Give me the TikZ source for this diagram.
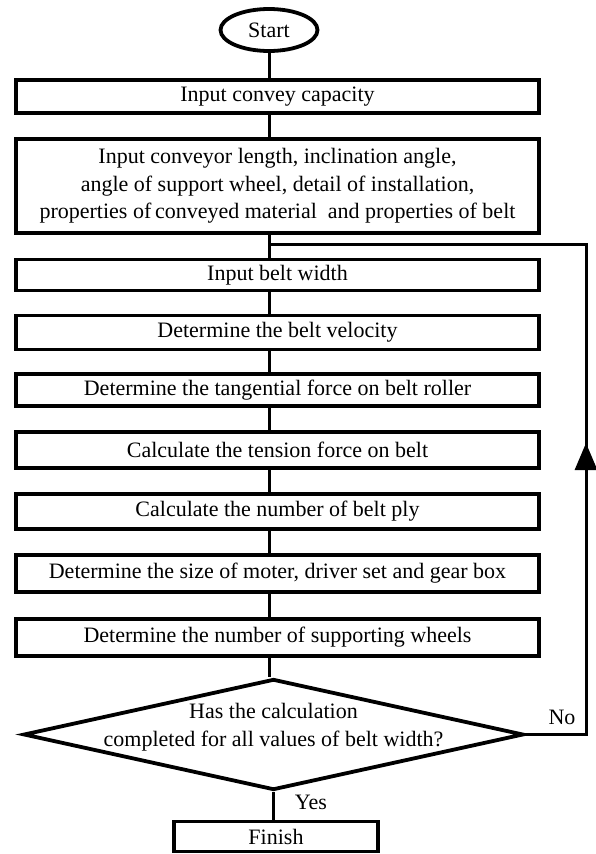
\documentclass[tikz,border=0pt]{standalone}
\usepackage{fontspec}
\setmainfont{Liberation Serif}
\usetikzlibrary{shapes.geometric,arrows.meta}
\begin{document}
\begin{tikzpicture}[x=1pt,y=-1pt,
  txt/.style={font=\fontsize{22}{27.5}\selectfont},
  box/.style={draw, line width=3.8pt, minimum width=523pt, minimum height=34pt,
              inner sep=0pt, align=center, txt},
  conn/.style={line width=3pt},
  lbl/.style={inner sep=0pt, txt}]
\useasboundingbox (0,0) rectangle (596,854);
\fill[white] (0,0) rectangle (596,854);

\node[draw, ellipse, line width=3.8pt, minimum width=97pt, minimum height=42pt,
      inner sep=0pt, txt] (start) at (269,30) {Start};

\node[box, minimum height=33pt] (b1) at (277.5,96.5) {Input convey capacity};
\node[box, minimum height=94pt] (b2) at (277.5,186) {Input conveyor length, inclination angle,\\
angle of support wheel, detail of installation,\\
properties of\,conveyed material\ \ and properties of belt};
\node[box, minimum height=31pt] (b3) at (277.5,275) {Input belt width};
\node[box] (b4) at (277.5,332.5) {Determine the belt velocity};
\node[box, minimum height=32pt] (b5) at (277.5,390) {Determine the tangential force on belt roller};
\node[box, minimum height=36pt] (b6) at (277.5,450) {Calculate the tension force on belt};
\node[box, minimum height=35pt] (b7) at (277.5,511.5) {Calculate the number of belt ply};
\node[box, minimum height=37pt] (b8) at (277.5,573.5) {Determine the size of moter, driver set and gear box};
\node[box, minimum height=37pt] (b9) at (277.5,637.5) {Determine the number of supporting wheels};

\node[draw, diamond, line width=3.8pt, minimum width=500pt, minimum height=111pt,
      inner sep=0pt] (dec) at (273.5,734.5) {};
\node[lbl, align=center] (dectext) at (273.5,727) {Has the calculation\\completed for all values of belt width?};

\node[box, minimum width=204pt, minimum height=30pt] (fin) at (276,836.5) {Finish};

\node[lbl] (no) at (562,717) {No};
\node[lbl] (yes) at (311,802) {Yes};

\coordinate (jn) at (269,244);
\coordinate (rt) at (586,244);
\coordinate (tip) at (586,443);

\draw[conn] (start) -- (start |- b1.north);
\draw[conn] (start |- b1.south) -- (start |- b2.north);
\draw[conn] (start |- b2.south) -- (start |- b3.north);
\draw[conn] (start |- b3.south) -- (start |- b4.north);
\draw[conn] (start |- b4.south) -- (start |- b5.north);
\draw[conn] (start |- b5.south) -- (start |- b6.north);
\draw[conn] (start |- b6.south) -- (start |- b7.north);
\draw[conn] (start |- b7.south) -- (start |- b8.north);
\draw[conn] (start |- b8.south) -- (start |- b9.north);
\draw[conn] (start |- b9.south) -- (start |- dec.north);
\draw[conn] (dec.south) -- (dec.south |- fin.north);

\draw[conn, line join=miter] (dec.east) -- (dec.east -| rt) -- (rt) -- (jn);
\draw[conn, -{Triangle[width=22pt,length=27pt]}] (dec.east -| rt) -- (tip);
\end{tikzpicture}
\end{document}
